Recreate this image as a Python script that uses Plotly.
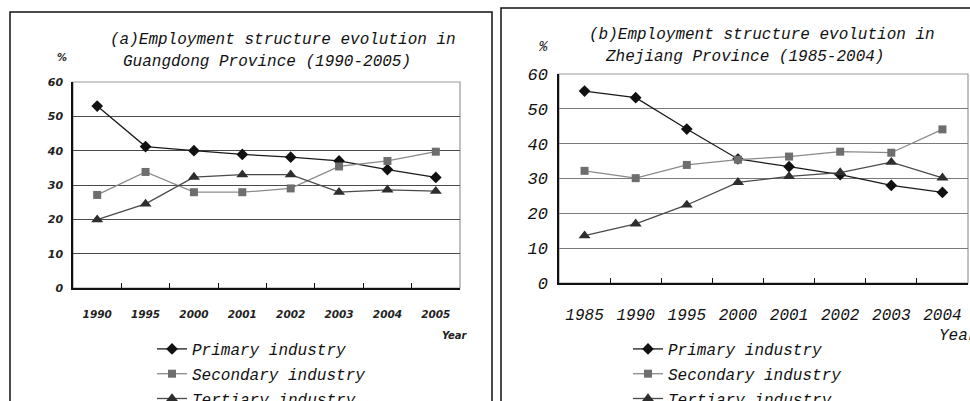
import plotly.graph_objects as go

W, H = 970, 401

# Guangdong, share of employment by sector (%)
gd_years = ["1990", "1995", "2000", "2001", "2002", "2003", "2004", "2005"]
gd_primary = [53.0, 41.2, 40.0, 38.9, 38.1, 37.0, 34.5, 32.2]
gd_secondary = [27.1, 33.8, 27.9, 27.9, 29.0, 35.4, 37.0, 39.7]
gd_tertiary = [19.9, 24.5, 32.3, 33.0, 33.0, 27.9, 28.6, 28.2]

# Zhejiang, share of employment by sector (%)
zj_years = ["1985", "1990", "1995", "2000", "2001", "2002", "2003", "2004"]
zj_primary = [55.1, 53.2, 44.2, 35.6, 33.4, 31.1, 28.0, 26.0]
zj_secondary = [32.2, 30.1, 33.9, 35.4, 36.3, 37.7, 37.4, 44.1]
zj_tertiary = [13.6, 17.0, 22.4, 28.9, 30.6, 31.7, 34.7, 30.2]

y_ticks = [0, 10, 20, 30, 40, 50, 60]
series_names = ["Primary industry", "Secondary industry", "Tertiary industry"]

MONO = "Liberation Mono"
SANS = "DejaVu Sans"

styles = [
    dict(line="#1a1a1a", marker="#111111", symbol="diamond", size=9),
    dict(line="#8a8a8a", marker="#6e6e6e", symbol="square", size=8),
    dict(line="#4a4a4a", marker="#2e2e2e", symbol="triangle-up", size=10.5),
]


def px_x(v):
    return v / W


def px_y(v):
    return 1 - v / H


fig = go.Figure()

panels = [
    dict(years=gd_years, data=[gd_primary, gd_secondary, gd_tertiary],
         xa="x", ya="y", legend="legend"),
    dict(years=zj_years, data=[zj_primary, zj_secondary, zj_tertiary],
         xa="x2", ya="y2", legend="legend2"),
]

for p in panels:
    for name, vals, st in zip(series_names, p["data"], styles):
        fig.add_trace(go.Scatter(
            x=p["years"], y=vals, name=name, mode="lines+markers",
            xaxis=p["xa"], yaxis=p["ya"], legend=p["legend"],
            legendgroup=p["legend"] + name,
            line=dict(color=st["line"], width=1.3),
            marker=dict(symbol=st["symbol"], size=st["size"], color=st["marker"]),
            cliponaxis=False,
        ))

# plot areas in pixels: (left, right, top, bottom)
gd_box = (73, 460, 82, 288)
zj_box = (559, 968, 74, 283)

common_x = dict(type="category", range=[-0.5, 7.5], tickson="boundaries",
                showgrid=False, showline=True, linecolor="#111", linewidth=1.5,
                ticks="inside", ticklen=5, tickcolor="#111", zeroline=False,
                fixedrange=True)
common_y = dict(range=[0, 60], tickvals=y_ticks, showline=True, linecolor="#111",
                linewidth=1.5, ticks="", zeroline=False, fixedrange=True)

fig.update_layout(
    width=W, height=H, margin=dict(l=0, r=0, t=0, b=0, autoexpand=False),
    paper_bgcolor="white", plot_bgcolor="white",
    xaxis=dict(common_x, domain=[px_x(gd_box[0]), px_x(gd_box[1])], anchor="y",
               tickfont=dict(family=SANS, size=10.5, style="italic", weight="bold",
                             color="#222"),
               ticklabelstandoff=16),
    yaxis=dict(common_y, domain=[px_y(gd_box[3]), px_y(gd_box[2])], anchor="x",
               showgrid=True, gridcolor="#4a4a4a", gridwidth=1.2,
               tickfont=dict(family=SANS, size=11, style="italic", weight="bold",
                             color="#222"),
               ticklabelstandoff=6),
    xaxis2=dict(common_x, domain=[px_x(zj_box[0]), px_x(zj_box[1])], anchor="y2",
                tickfont=dict(family=MONO, size=16, style="italic", color="#111"),
                ticklabelstandoff=16),
    yaxis2=dict(common_y, domain=[px_y(zj_box[3]), px_y(zj_box[2])], anchor="x2",
                showgrid=True, gridcolor="#7a7a7a", gridwidth=1.2,
                tickfont=dict(family=MONO, size=17, style="italic", color="#111"),
                ticklabelstandoff=6),
    legend=dict(x=px_x(152), y=px_y(332), xanchor="left", yanchor="top",
                bgcolor="rgba(0,0,0,0)", tracegroupgap=1, itemwidth=30,
                font=dict(family=MONO, size=16, style="italic", color="#111")),
    legend2=dict(x=px_x(628), y=px_y(332), xanchor="left", yanchor="top",
                 bgcolor="rgba(0,0,0,0)", tracegroupgap=1, itemwidth=30,
                 font=dict(family=MONO, size=16, style="italic", color="#111")),
    showlegend=True,
)

# plot area outlines and panel frames
shapes = []
for (l, r, t, b) in (gd_box, zj_box):
    shapes.append(dict(type="rect", xref="paper", yref="paper",
                       x0=px_x(l), x1=px_x(r), y0=px_y(b), y1=px_y(t),
                       line=dict(color="#9a9a9a", width=1.2), layer="below"))
shapes.append(dict(type="rect", xref="paper", yref="paper",
                   x0=px_x(10), x1=px_x(492), y0=px_y(420), y1=px_y(12),
                   line=dict(color="#111", width=1.5)))
shapes.append(dict(type="rect", xref="paper", yref="paper",
                   x0=px_x(501), x1=px_x(990), y0=px_y(420), y1=px_y(8),
                   line=dict(color="#111", width=1.5)))
fig.update_layout(shapes=shapes)

title_font = dict(family=MONO, size=16, style="italic", color="#111")
texts = [
    ("(a)Employment structure evolution in", 108, 40, title_font),
    ("Guangdong Province (1990-2005)", 121, 62, title_font),
    ("(b)Employment structure evolution in", 587, 35, title_font),
    ("Zhejiang Province (1985-2004)", 603, 57, title_font),
    ("%", 55, 57, dict(family=SANS, size=10, style="italic", weight="bold", color="#222")),
    ("%", 536, 47, dict(family=MONO, size=14, style="italic", color="#111")),
    ("Year", 440, 335, dict(family=SANS, size=10, style="italic", weight="bold", color="#222")),
    ("Year", 937, 336, dict(family=MONO, size=16, style="italic", color="#111")),
]
for txt, x, y, f in texts:
    fig.add_annotation(text=txt, xref="paper", yref="paper", x=px_x(x), y=px_y(y),
                       xanchor="left", yanchor="middle", showarrow=False, font=f)

fig.write_html("out.html")
